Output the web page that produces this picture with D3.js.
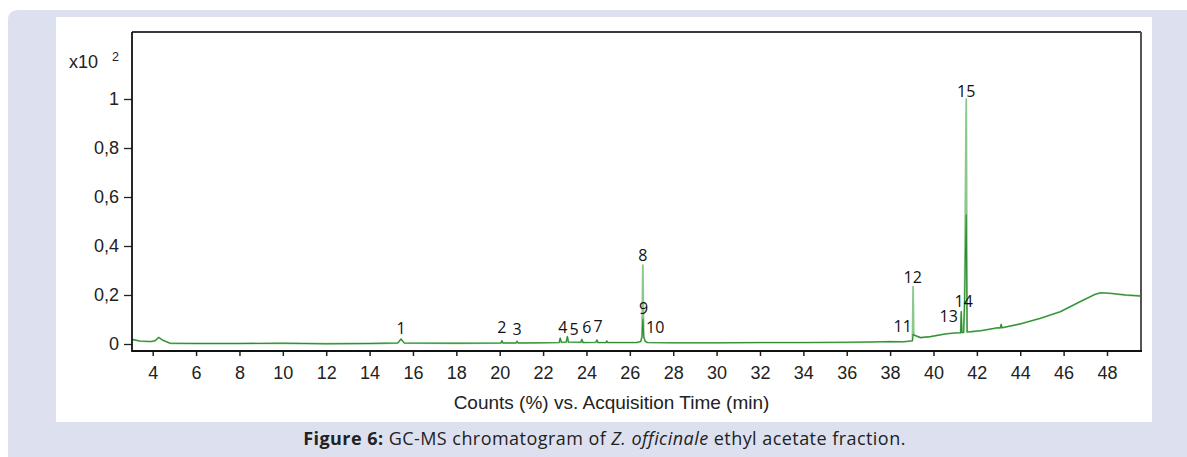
<!DOCTYPE html>
<html><head><meta charset="utf-8">
<script src="https://cdn.jsdelivr.net/npm/d3@7/dist/d3.min.js"></script>
<style>body{margin:0;background:#fff}</style>
</head><body>
<svg id="c" width="1187" height="457"></svg>
<script>
// ---- data ----
const xTicks = [4,6,8,10,12,14,16,18,20,22,24,26,28,30,32,34,36,38,40,42,44,46,48];
const yTicks = [0,0.2,0.4,0.6,0.8,1];
const yTickLabels = ["0","0,2","0,4","0,6","0,8","1"];

const baseTime = [3.05,3.4,3.9,4.1,4.28,4.45,4.8,6,8,10,12,14,15.3,15.45,15.6,18,20.05,20.1,20.15,20.75,20.8,20.85,22.0,22.74,22.79,22.84,23.07,23.12,23.17,23.74,23.79,23.84,24.43,24.48,24.53,24.9,24.94,24.98,26.3,26.5,26.56,26.64,26.7,26.8,28,30,32,34,36,37,38,38.6,39.03,39.09,39.4,39.86,40.55,41.0,41.25,41.31,41.39,41.55,41.7,42.16,42.95,43.08,43.12,43.16,44.0,44.93,45.85,46.77,47.46,47.7,48.15,48.85,49.55];
const baseValue = [0.019,0.012,0.010,0.013,0.027,0.016,0.003,0.002,0.002,0.003,0.001,0.002,0.004,0.020,0.004,0.003,0.004,0.013,0.004,0.004,0.011,0.004,0.005,0.006,0.024,0.007,0.008,0.030,0.008,0.007,0.019,0.006,0.007,0.016,0.006,0.006,0.012,0.006,0.006,0.010,0.030,0.030,0.012,0.006,0.005,0.005,0.006,0.006,0.007,0.008,0.010,0.009,0.013,0.037,0.026,0.030,0.041,0.045,0.046,0.047,0.047,0.049,0.050,0.054,0.066,0.066,0.080,0.066,0.082,0.105,0.132,0.173,0.203,0.209,0.207,0.200,0.196];

const peakTime = [26.6,39.06,41.28,41.43,41.51];
const peakTop  = [0.322,0.234,0.132,0.160,0.999];
const peakCore = [0.102,0.040,0.132,0.160,0.527];

const labelText  = ["1","2","3","4","5","6","7","8","9","10","11","12","13","14","15"];
const labelTime  = [15.45,20.10,20.80,22.91,23.43,24.02,24.54,26.60,26.63,27.17,38.58,39.04,40.70,41.39,41.51];
const labelValue = [0.041,0.045,0.037,0.045,0.037,0.045,0.049,0.339,0.122,0.045,0.049,0.249,0.090,0.151,1.010];

const caption = {bold:"Figure 6:", pre:" GC-MS chromatogram of ", ital:"Z. officinale", post:" ethyl acetate fraction."};
const xTitle = "Counts (%) vs. Acquisition Time (min)";

// ---- drawing ----
const svg = d3.select("#c");
svg.append("path")
  .attr("d","M8,457 L8,20 Q8,10 18,10 L1187,10 L1187,457 Z")
  .attr("fill","#dde1ef");
svg.append("rect").attr("x",56).attr("y",17).attr("width",1096).attr("height",405).attr("fill","#fff");

const L=132, R=1141, T=32, B=351;
const x = d3.scaleLinear().domain([4,48]).range([152.7,1107]);
const y = d3.scaleLinear().domain([0,1]).range([344,99]);

const g = svg.append("g");
const lineGen = d3.line().x(d=>x(d[0])).y(d=>y(d[1]));

const basePts = baseTime.map((t,i)=>[t,baseValue[i]]);
const fullPts = basePts.concat(peakTime.map((t,i)=>[t,peakTop[i]])).sort((a,b)=>a[0]-b[0]);
const corePts = basePts.concat(peakTime.map((t,i)=>[t,peakCore[i]])).sort((a,b)=>a[0]-b[0]);

g.append("path").attr("d",lineGen(fullPts)).attr("fill","none")
  .attr("stroke","#8cc78c").attr("stroke-width",1.8).attr("stroke-linejoin","round");
g.append("path").attr("d",lineGen(corePts)).attr("fill","none")
  .attr("stroke","#2e8c2e").attr("stroke-width",1.1).attr("stroke-linejoin","round");

// axes
const yAxis = d3.axisLeft(y).tickValues(yTicks).tickSize(8).tickPadding(5)
  .tickFormat((d,i)=>yTickLabels[i]);
const ya = svg.append("g").attr("transform",`translate(${L},0)`).call(yAxis);
ya.select(".domain").remove();
ya.selectAll("text").attr("font-family","'Liberation Sans',Arial,sans-serif").attr("font-size",18).attr("fill","#222");
ya.selectAll("line").attr("stroke","#222").attr("stroke-width",1.3);

const xAxis = d3.axisBottom(x).tickValues(xTicks).tickSize(5).tickPadding(10).tickFormat(d3.format("d"));
const xa = svg.append("g").attr("transform",`translate(0,${B})`).call(xAxis);
xa.select(".domain").remove();
xa.selectAll("text").attr("font-family","'Liberation Sans',Arial,sans-serif").attr("font-size",18).attr("fill","#222");
xa.selectAll("line").attr("stroke","#222").attr("stroke-width",1.5);

// frame
svg.append("line").attr("x1",L).attr("x2",R).attr("y1",T).attr("y2",T).attr("stroke","#3a3a3a").attr("stroke-width",2);
svg.append("line").attr("x1",R).attr("x2",R).attr("y1",T).attr("y2",B).attr("stroke","#555").attr("stroke-width",2);
svg.append("line").attr("x1",L).attr("x2",L).attr("y1",T).attr("y2",B+1).attr("stroke","#111").attr("stroke-width",1.8);
svg.append("line").attr("x1",L).attr("x2",R+1).attr("y1",B).attr("y2",B).attr("stroke","#111").attr("stroke-width",2);

// x10^2
svg.append("text").attr("x",69).attr("y",68).text("x10")
  .attr("font-family","'Liberation Sans',Arial,sans-serif").attr("font-size",18).attr("fill","#222");
svg.append("text").attr("x",112).attr("y",61).text("2")
  .attr("font-family","'Liberation Sans',Arial,sans-serif").attr("font-size",12.5).attr("fill","#222");

// axis title
svg.append("text").attr("x",611.5).attr("y",408.5).attr("text-anchor","middle").text(xTitle)
  .attr("font-family","'Liberation Sans',Arial,sans-serif").attr("font-size",19).attr("fill","#222");

// peak labels
svg.append("g").selectAll("text").data(labelText).join("text")
  .attr("x",(d,i)=>x(labelTime[i])).attr("y",(d,i)=>y(labelValue[i]))
  .attr("text-anchor","middle").text(d=>d)
  .attr("font-family","'Open Sans',sans-serif").attr("font-size",16).attr("fill","#111");

// caption
const cap = svg.append("text").attr("x",604.5).attr("y",444.5).attr("text-anchor","middle")
  .attr("font-family","'Open Sans',sans-serif").attr("font-size",18).attr("letter-spacing",0.45).attr("fill","#222");
cap.append("tspan").attr("font-weight","bold").text(caption.bold);
cap.append("tspan").text(caption.pre);
cap.append("tspan").attr("font-style","italic").text(caption.ital);
cap.append("tspan").text(caption.post);
</script>
</body></html>
